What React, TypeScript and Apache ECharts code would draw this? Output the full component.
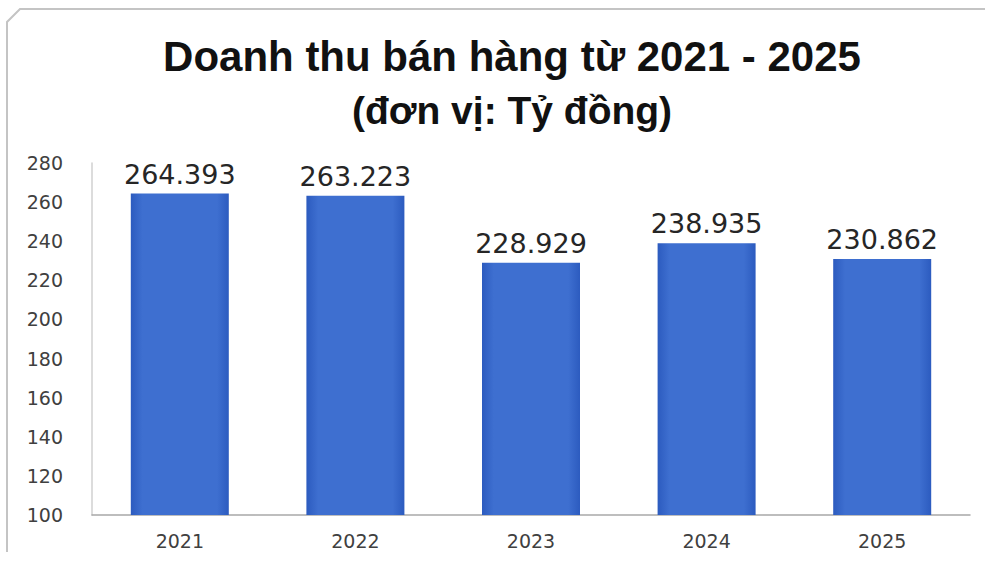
import React, { useEffect, useRef } from "react";
import * as echarts from "echarts";

const categories = ["2021", "2022", "2023", "2024", "2025"];
const revenue = [264.393, 263.223, 228.929, 238.935, 230.862];
const valueLabels = ["264.393", "263.223", "228.929", "238.935", "230.862"];
const titleText = "Doanh thu bán hàng từ 2021 - 2025";
const subtitleText = "(đơn vị: Tỷ đồng)";

export default function App() {
  const ref = useRef<HTMLDivElement>(null);
  useEffect(() => {
    if (!ref.current) return;
    const chart = echarts.init(ref.current, null, { renderer: "svg" });
    const barColor = new echarts.graphic.LinearGradient(0, 0, 1, 0, [
      { offset: 0, color: "#2c5bbf" },
      { offset: 0.12, color: "#3e6fd0" },
      { offset: 0.88, color: "#3e6fd0" },
      { offset: 1, color: "#2c5bbf" },
    ]);
    chart.setOption({
      animation: false,
      backgroundColor: "#ffffff",
      title: [
        {
          text: titleText,
          left: 507,
          top: 30,
          textAlign: "center",
          textStyle: {
            fontFamily: "Liberation Sans",
            fontWeight: "bold",
            fontSize: 42,
            color: "#111111",
          },
        },
        {
          text: subtitleText,
          left: 507,
          top: 86,
          textAlign: "center",
          textStyle: {
            fontFamily: "Liberation Sans",
            fontWeight: "bold",
            fontSize: 39,
            color: "#111111",
          },
        },
      ],
      graphic: [
        {
          type: "polyline",
          shape: {
            points: [
              [7, 552],
              [7, 22],
              [20, 9],
              [985, 9],
            ],
          },
          style: { stroke: "#c4c4c4", lineWidth: 2, fill: "none" },
          silent: true,
        },
      ],
      grid: { left: 92, right: 23, top: 163, bottom: 47 },
      xAxis: {
        type: "category",
        data: categories,
        axisTick: { show: false },
        axisLine: { lineStyle: { color: "#a8a8a8", width: 1.5 } },
        axisLabel: {
          margin: 16,
          fontFamily: "DejaVu Sans",
          fontSize: 19,
          color: "#404040",
        },
      },
      yAxis: {
        type: "value",
        min: 100,
        max: 280,
        interval: 20,
        splitLine: { show: false },
        axisTick: { show: false },
        axisLine: { show: true, lineStyle: { color: "#d0d0d0", width: 1.5 } },
        axisLabel: {
          margin: 29,
          fontFamily: "DejaVu Sans",
          fontSize: 19,
          color: "#404040",
        },
      },
      series: [
        {
          type: "bar",
          data: revenue,
          barWidth: 98,
          itemStyle: { color: barColor },
          label: {
            show: true,
            position: "top",
            distance: 6,
            formatter: (p: any) => valueLabels[p.dataIndex],
            fontFamily: "DejaVu Sans",
            fontSize: 27,
            color: "#262626",
          },
        },
      ],
    });
    return () => chart.dispose();
  }, []);
  return (
    <div
      ref={ref}
      style={{ position: "absolute", left: 0, top: 0, width: 993, height: 562 }}
    />
  );
}
